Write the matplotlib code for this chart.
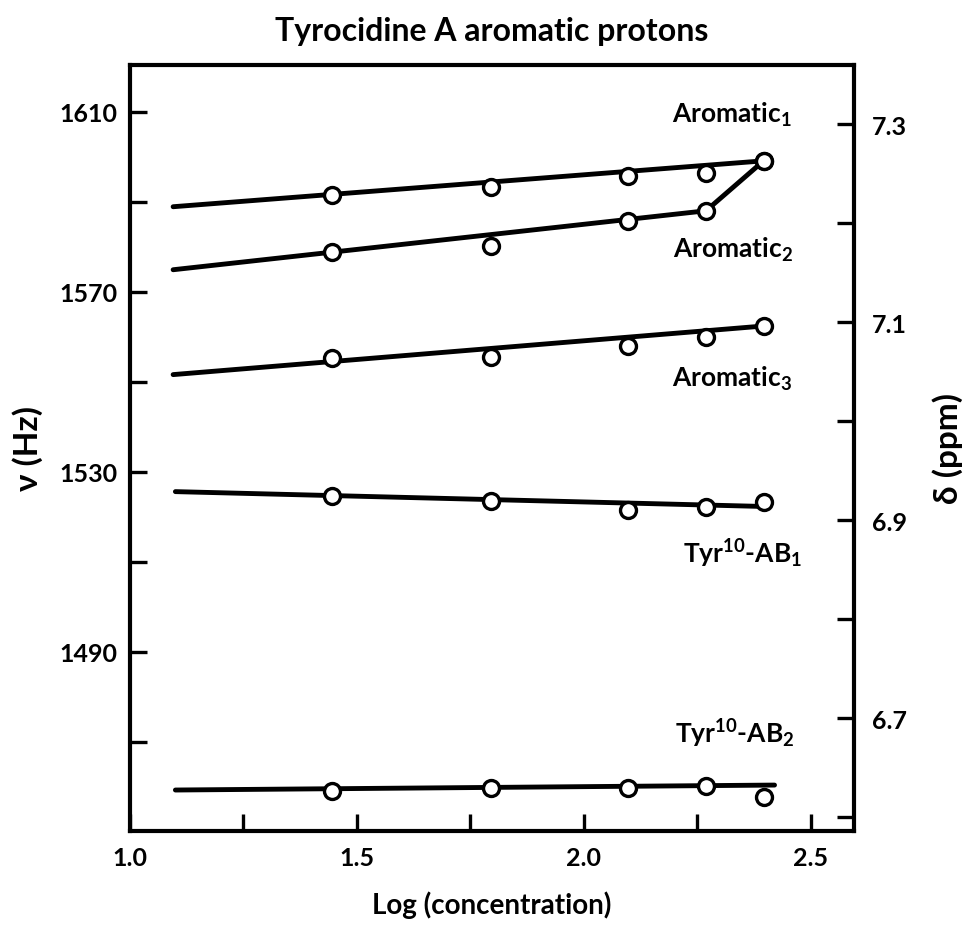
import matplotlib
matplotlib.use("Agg")
import matplotlib.pyplot as plt
from matplotlib.ticker import FixedLocator, FormatStrFormatter

# ---- fonts ----
plt.rcParams["font.family"] = ["Lato", "DejaVu Sans"]
plt.rcParams["font.weight"] = "bold"
plt.rcParams["mathtext.fontset"] = "custom"
plt.rcParams["mathtext.rm"] = "Lato:bold"
plt.rcParams["mathtext.it"] = "Lato:bold"
plt.rcParams["mathtext.bf"] = "Lato:bold"

# ---- measured shifts (Hz) vs log concentration ----
log_conc = [1.445, 1.795, 2.097, 2.269, 2.396]

aromatic1_hz = [1591.6, 1593.3, 1595.8, 1596.4, 1599.1]
aromatic2_hz = [1578.9, 1580.2, 1585.8, 1588.0, 1599.1]
aromatic3_hz = [1555.3, 1555.6, 1558.0, 1560.0, 1562.4]
tyr_ab1_hz   = [1524.7, 1523.6, 1521.6, 1522.2, 1523.3]
tyr_ab2_hz   = [1459.1, 1459.8, 1459.8, 1460.2, 1457.8]

# ---- hand-fitted trend lines ----
aromatic1_fit_x  = [1.095, 2.396]
aromatic1_fit_hz = [1588.9, 1599.1]
aromatic2_fit_x  = [1.095, 2.269, 2.396]
aromatic2_fit_hz = [1574.9, 1588.0, 1599.1]
aromatic3_fit_x  = [1.095, 2.396]
aromatic3_fit_hz = [1551.6, 1562.4]
tyr_ab1_fit_x    = [1.100, 2.396]
tyr_ab1_fit_hz   = [1525.6, 1522.3]
tyr_ab2_fit_x    = [1.100, 2.420]
tyr_ab2_fit_hz   = [1459.3, 1460.4]

series_labels = [r"Aromatic$_{1}$", r"Aromatic$_{2}$", r"Aromatic$_{3}$",
                 r"Tyr$^{10}$-AB$_{1}$", r"Tyr$^{10}$-AB$_{2}$"]
label_x  = [2.194, 2.196, 2.194, 2.218, 2.200]
label_hz = [1607.8, 1577.8, 1549.1, 1510.0, 1470.0]

hz_major  = [1450, 1490, 1530, 1570, 1610]
hz_minor  = [1470, 1510, 1550, 1590]
ppm_major = [6.7, 6.9, 7.1, 7.3]
ppm_minor = [6.6, 6.8, 7.0, 7.2]
x_major   = [1.0, 1.5, 2.0, 2.5]
x_minor   = [1.25, 1.75, 2.25]

LW_LINE = 3.5
TICK_KW = dict(direction="in", length=12, width=2.4, labelsize=18)

fig = plt.figure(figsize=(9.68, 9.45), dpi=100)
ax = fig.add_axes([0.1343, 0.1196, 0.7479, 0.8106])

fits = [
    (aromatic1_fit_x, aromatic1_fit_hz),
    (aromatic2_fit_x, aromatic2_fit_hz),
    (aromatic3_fit_x, aromatic3_fit_hz),
    (tyr_ab1_fit_x, tyr_ab1_fit_hz),
    (tyr_ab2_fit_x, tyr_ab2_fit_hz),
]
points = [aromatic1_hz, aromatic2_hz, aromatic3_hz, tyr_ab1_hz, tyr_ab2_hz]

for fx, fy in fits:
    ax.plot(fx, fy, color="black", linewidth=LW_LINE,
            solid_capstyle="round", zorder=2)

for py in points:
    ax.plot(log_conc, py, linestyle="none", marker="o", markersize=11.5,
            markerfacecolor="white", markeredgecolor="black",
            markeredgewidth=2.4, zorder=3)

for txt, tx, ty in zip(series_labels, label_x, label_hz):
    ax.text(tx, ty, txt, fontsize=19, fontweight="bold",
            ha="left", va="baseline")

ax.set_xlim(1.0, 2.595)
ax.set_ylim(1450.2, 1620.4)

ax.xaxis.set_major_locator(FixedLocator(x_major))
ax.xaxis.set_minor_locator(FixedLocator(x_minor))
ax.xaxis.set_major_formatter(FormatStrFormatter("%.1f"))
ax.yaxis.set_major_locator(FixedLocator(hz_major))
ax.yaxis.set_minor_locator(FixedLocator(hz_minor))
ax.tick_params(axis="both", which="both", **TICK_KW)
ax.tick_params(axis="x", which="both", pad=11)
ax.tick_params(axis="y", which="both", pad=9)

for sp in ax.spines.values():
    sp.set_linewidth(3)

ax.set_xlabel("Log (concentration)", fontsize=20, fontweight="bold",
              labelpad=15)
ax.set_ylabel("ν (Hz)", fontsize=24, fontweight="bold", labelpad=12)
ax.set_title("Tyrocidine A aromatic protons", fontsize=23,
             fontweight="bold", pad=18)

# ---- right-hand chemical shift axis (ppm) ----
ax2 = ax.twinx()
ax2.set_ylim(6.586, 7.360)
ax2.yaxis.set_major_locator(FixedLocator(ppm_major))
ax2.yaxis.set_minor_locator(FixedLocator(ppm_minor))
ax2.yaxis.set_major_formatter(FormatStrFormatter("%.1f"))
ax2.tick_params(axis="y", which="both", **TICK_KW)
ax2.tick_params(axis="y", which="both", pad=13)
for sp in ax2.spines.values():
    sp.set_visible(False)
ax2.set_ylabel("δ (ppm)", fontsize=24, fontweight="bold", labelpad=18)

fig.savefig("out.png", dpi=100)
